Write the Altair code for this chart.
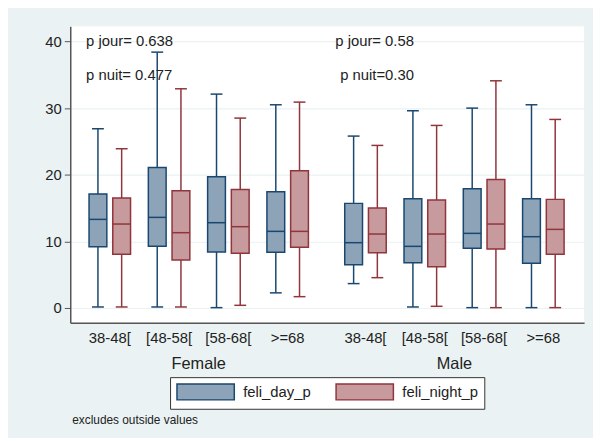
import altair as alt
import pandas as pd

# ---- data ----
sexes = ["Female", "Male"]
ages = ["38-48[", "[48-58[", "[58-68[", ">=68"]
series = ["feli_day_p", "feli_night_p"]

# order: Female 4 age groups, then Male 4 age groups
day_lo = [0.15, 0.15, 0.05, 2.27, 3.66, 0.15, 0.05, 0.05]
day_q1 = [9.2, 9.25, 8.4, 8.36, 6.5, 6.8, 8.95, 6.7]
day_med = [13.3, 13.6, 12.8, 11.5, 9.8, 9.25, 11.2, 10.7]
day_q3 = [17.1, 21.1, 19.7, 17.45, 15.7, 16.4, 17.9, 16.4]
day_hi = [26.9, 38.4, 32.1, 30.5, 25.8, 29.6, 30.0, 30.5]

night_lo = [0.15, 0.15, 0.4, 1.7, 4.55, 0.25, 0.05, 0.05]
night_q1 = [8.06, 7.2, 8.2, 9.1, 8.3, 6.2, 8.85, 8.06]
night_med = [12.6, 11.3, 12.2, 11.5, 11.1, 11.1, 12.6, 11.8]
night_q3 = [16.5, 17.6, 17.8, 20.6, 15.0, 16.2, 19.3, 16.3]
night_hi = [23.9, 32.9, 28.5, 30.9, 24.4, 27.4, 34.1, 28.3]

annot_text = ["p jour= 0.638", "p nuit= 0.477", "p jour= 0.58", "p nuit=0.30"]
annot_sex = [0, 0, 1, 1]
annot_y = [40, 35, 40, 35]

note = "excludes outside values"

# ---- build tables ----
rows = []
stats = [
    (series[0], day_lo, day_q1, day_med, day_q3, day_hi),
    (series[1], night_lo, night_q1, night_med, night_q3, night_hi),
]
for si, (name, lo, q1, med, q3, hi) in enumerate(stats):
    for k in range(len(sexes) * len(ages)):
        rows.append(dict(series=name, ser_i=si, sex_i=k // len(ages), age_i=k % len(ages),
                         lo=lo[k], q1=q1[k], med=med[k], q3=q3[k], hi=hi[k]))
df = pd.DataFrame(rows)

lab_rows = []
for s_i, s in enumerate(sexes):
    for a_i, a in enumerate(ages):
        lab_rows.append(dict(label=a, sex_i=s_i, age_i=a_i))
labdf = pd.DataFrame(lab_rows)
sexdf = pd.DataFrame(dict(label=sexes, sex_i=list(range(len(sexes)))))
anndf = pd.DataFrame(dict(text=annot_text, sex_i=annot_sex, y=annot_y))

GROUP = 4.3125  # width of a sex block in age-slot units (4 slots + gap)
FONT = "Liberation Sans"
BG = "#EAF2F3"
AXC = "#555555"

xscale = alt.Scale(domain=[-0.667, 8.0], nice=False, zero=False)
yscale = alt.Scale(domain=[-2.225, 42.27], nice=False, zero=False)

fill_scale = alt.Scale(domain=series, range=["#8CA3B8", "#C79A9D"])
stroke_scale = alt.Scale(domain=series, range=["#1A476F", "#90353B"])

# legend swatch: 58 x 16 px rectangle, symbol size 16x16 -> r = 8
leg = alt.Legend(
    orient="none", legendX=101, legendY=355, direction="horizontal", title=None,
    symbolType="M-1,-1H6.25V1H-1Z", symbolSize=256, symbolStrokeWidth=1.5,
    symbolOpacity=1, labelFontSize=15, labelFont=FONT, labelColor="#222222",
    labelOffset=50, columnPadding=22, padding=6, strokeColor="#333333",
    fillColor="white", labelLimit=200,
)

base = alt.Chart(df).transform_calculate(
    pos=f"datum.sex_i * {GROUP} + datum.age_i + (datum.ser_i == 0 ? -0.2 : 0.2)"
).transform_calculate(
    xl="datum.pos - 0.15", xr="datum.pos + 0.15",
    cl="datum.pos - 0.1", cr="datum.pos + 0.1",
)

stroke_enc = alt.Stroke("series:N", scale=stroke_scale, legend=leg)

whisker = base.mark_rule(strokeWidth=1.5).encode(
    x=alt.X("pos:Q", scale=xscale,
            axis=alt.Axis(labels=False, ticks=False, grid=False, domainColor=AXC,
                          domainWidth=1.5, title=None)),
    y=alt.Y("lo:Q", scale=yscale,
            axis=alt.Axis(values=[0, 10, 20, 30, 40], grid=True, gridColor=BG,
                          gridWidth=1.2, tickSize=6, tickColor=AXC, domainColor=AXC,
                          domainWidth=1.5, labelFontSize=15, labelFont=FONT,
                          labelColor="#222222", labelPadding=3, title=None)),
    y2="hi:Q",
    stroke=stroke_enc,
)
cap_lo = base.mark_rule(strokeWidth=1.5).encode(
    x="cl:Q", x2="cr:Q", y="lo:Q", stroke=stroke_enc)
cap_hi = base.mark_rule(strokeWidth=1.5).encode(
    x="cl:Q", x2="cr:Q", y="hi:Q", stroke=stroke_enc)
box = base.mark_rect(strokeWidth=1.5).encode(
    x="xl:Q", x2="xr:Q", y="q1:Q", y2="q3:Q",
    fill=alt.Fill("series:N", scale=fill_scale, legend=leg),
    stroke=stroke_enc,
)
median = base.mark_rule(strokeWidth=1.5).encode(
    x="xl:Q", x2="xr:Q", y="med:Q", stroke=stroke_enc)

age_labels = alt.Chart(labdf).transform_calculate(
    c=f"datum.sex_i * {GROUP} + datum.age_i"
).mark_text(fontSize=15, font=FONT, color="#222222", baseline="middle").encode(
    x="c:Q", y=alt.value(315), text="label:N")

sex_labels = alt.Chart(sexdf).transform_calculate(
    c=f"datum.sex_i * {GROUP} + 1.5"
).mark_text(fontSize=16.5, font=FONT, color="#222222", baseline="middle").encode(
    x="c:Q", y=alt.value(342), text="label:N")

ann_left = alt.Chart(anndf).transform_filter("datum.sex_i == 0").mark_text(
    fontSize=15, font=FONT, color="#222222", align="left", baseline="middle"
).encode(x=alt.datum(-0.4), y="y:Q", text="text:N")
ann_right = alt.Chart(anndf).transform_filter("datum.sex_i == 1").mark_text(
    fontSize=15, font=FONT, color="#222222", align="right", baseline="middle"
).encode(x=alt.datum(5.13), y="y:Q", text="text:N")

note_text = alt.Chart(pd.DataFrame(dict(t=[note]))).mark_text(
    fontSize=12, font=FONT, color="#222222", align="left", baseline="middle"
).encode(x=alt.value(2), y=alt.value(398), text="t:N")

chart = alt.layer(
    whisker, cap_lo, cap_hi, box, median, age_labels, sex_labels,
    ann_left, ann_right, note_text
).properties(
    width=520, height=300,
    autosize=alt.AutoSizeParams(type="none"),
    padding={"left": 63, "top": 16, "right": 9, "bottom": 114},
    background=BG,
).configure_view(stroke=None, fill="white")

chart.save("out.html", embed_options={"renderer": "svg", "actions": False})
